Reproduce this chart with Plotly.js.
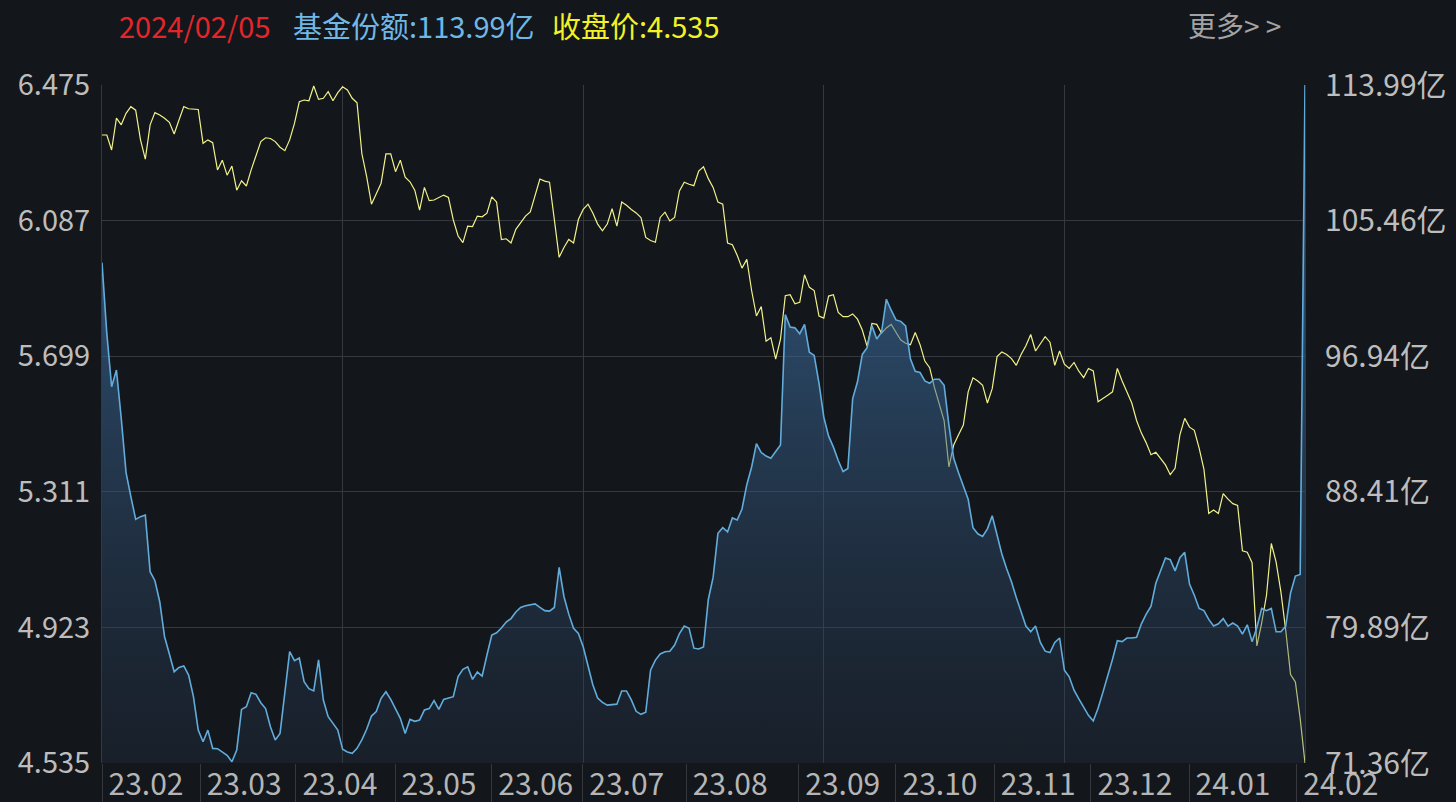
<!DOCTYPE html>
<html>
<head>
<meta charset="utf-8">
<script src="https://cdn.plot.ly/plotly-3.0.1.min.js"></script>
<style>
  html, body { margin: 0; padding: 0; background: #13161b; }
  #chart { width: 1456px; height: 802px; }
</style>
</head>
<body>
<div id="chart"></div>
<script>
// Closing price (left axis)
const price = [
  6.332, 6.332, 6.289, 6.380, 6.361, 6.394, 6.413, 6.403, 6.318, 6.263,
  6.361, 6.396, 6.389, 6.380, 6.368, 6.335, 6.375, 6.413, 6.407, 6.405,
  6.405, 6.308, 6.318, 6.310, 6.232, 6.260, 6.217, 6.243, 6.174, 6.201,
  6.186, 6.232, 6.275, 6.313, 6.324, 6.322, 6.313, 6.297, 6.287, 6.318,
  6.365, 6.427, 6.432, 6.430, 6.472, 6.434, 6.437, 6.456, 6.430, 6.453,
  6.470, 6.461, 6.437, 6.424, 6.279, 6.213, 6.134, 6.165, 6.194, 6.278,
  6.278, 6.227, 6.260, 6.211, 6.198, 6.174, 6.117, 6.182, 6.144, 6.146,
  6.153, 6.160, 6.153, 6.089, 6.043, 6.024, 6.071, 6.070, 6.100, 6.098,
  6.108, 6.155, 6.140, 6.033, 6.035, 6.023, 6.062, 6.081, 6.100, 6.112,
  6.159, 6.206, 6.200, 6.197, 6.090, 5.982, 6.010, 6.033, 6.023, 6.090,
  6.119, 6.134, 6.109, 6.077, 6.058, 6.077, 6.121, 6.071, 6.140, 6.131,
  6.119, 6.109, 6.096, 6.039, 6.030, 6.025, 6.096, 6.111, 6.086, 6.096,
  6.172, 6.197, 6.191, 6.187, 6.229, 6.241, 6.207, 6.182, 6.140, 6.134,
  6.023, 6.018, 5.988, 5.951, 5.976, 5.887, 5.814, 5.841, 5.742, 5.752,
  5.691, 5.748, 5.872, 5.875, 5.849, 5.853, 5.932, 5.896, 5.887, 5.814,
  5.808, 5.871, 5.875, 5.824, 5.812, 5.812, 5.820, 5.805, 5.774, 5.727,
  5.793, 5.790, 5.765, 5.780, 5.790, 5.767, 5.745, 5.736, 5.732, 5.767,
  5.732, 5.685, 5.666, 5.609, 5.559, 5.515, 5.382, 5.445, 5.474, 5.502,
  5.597, 5.637, 5.628, 5.616, 5.565, 5.606, 5.698, 5.711, 5.704, 5.692,
  5.673, 5.704, 5.729, 5.761, 5.714, 5.734, 5.755, 5.739, 5.673, 5.714,
  5.676, 5.664, 5.681, 5.656, 5.638, 5.664, 5.657, 5.569, 5.577, 5.587,
  5.597, 5.664, 5.628, 5.597, 5.565, 5.515, 5.479, 5.451, 5.417, 5.424,
  5.407, 5.388, 5.360, 5.378, 5.474, 5.521, 5.496, 5.487, 5.436, 5.375,
  5.249, 5.259, 5.249, 5.306, 5.290, 5.277, 5.272, 5.142, 5.138, 5.108,
  4.870, 4.936, 5.015, 5.163, 5.110, 5.024, 4.914, 4.788, 4.767, 4.662,
  4.535
];

// Fund shares, 亿 (right axis)
const shares = [
  102.82, 98.37, 95.02, 96.07, 93.03, 89.62, 88.11, 86.68, 86.85, 86.95,
  83.39, 82.82, 81.50, 79.30, 78.21, 77.10, 77.37, 77.46, 76.89, 75.53,
  73.43, 72.70, 73.43, 72.28, 72.26, 72.05, 71.84, 71.44, 72.18, 74.73,
  74.90, 75.78, 75.68, 75.15, 74.78, 73.64, 72.81, 73.22, 75.95, 78.36,
  77.79, 77.96, 76.47, 76.03, 75.89, 77.84, 75.32, 74.27, 73.85, 73.43,
  72.22, 72.05, 71.97, 72.28, 72.81, 73.48, 74.31, 74.59, 75.43, 75.84,
  75.36, 74.80, 74.17, 73.22, 74.10, 73.98, 74.06, 74.69, 74.78, 75.28,
  74.73, 75.36, 75.43, 75.53, 76.79, 77.25, 77.41, 76.62, 77.08, 76.83,
  78.15, 79.41, 79.55, 79.85, 80.22, 80.44, 80.86, 81.14, 81.25, 81.30,
  81.36, 81.14, 80.94, 80.91, 81.14, 83.66, 81.83, 80.72, 79.83, 79.50,
  78.67, 77.47, 76.28, 75.44, 75.17, 75.00, 75.03, 75.06, 75.89, 75.89,
  75.33, 74.61, 74.42, 74.55, 77.19, 77.83, 78.22, 78.36, 78.39, 78.78,
  79.50, 79.97, 79.83, 78.58, 78.53, 78.66, 81.64, 83.03, 85.80, 86.16,
  85.89, 86.77, 86.64, 87.33, 88.86, 89.97, 91.44, 90.88, 90.66, 90.52,
  90.94, 91.36, 99.55, 98.77, 98.72, 98.35, 98.94, 97.19, 96.99, 95.24,
  93.11, 91.91, 91.22, 90.38, 89.69, 89.88, 94.27, 95.33, 97.05, 97.47,
  98.86, 98.02, 98.44, 100.52, 99.83, 99.22, 99.13, 98.85, 96.77, 95.99,
  95.91, 95.38, 95.24, 95.49, 95.49, 95.11, 92.61, 90.52, 89.61, 88.72,
  87.94, 86.16, 85.77, 85.61, 86.08, 86.91, 85.66, 84.50, 83.58, 82.75,
  81.77, 80.80, 79.97, 79.61, 79.97, 78.94, 78.39, 78.30, 78.94, 79.22,
  77.19, 76.78, 75.94, 75.39, 74.83, 74.36, 74.00, 74.80, 75.80, 76.78,
  77.88, 79.05, 78.99, 79.22, 79.22, 79.27, 80.11, 80.72, 81.22, 82.66,
  83.44, 84.25, 84.14, 83.44, 84.27, 84.61, 82.61, 81.91, 81.08, 80.94,
  80.39, 79.97, 80.11, 80.44, 79.97, 80.16, 79.97, 79.47, 80.05, 78.99,
  79.88, 81.08, 80.94, 81.08, 79.61, 79.61, 79.97, 82.05, 83.11, 83.22,
  113.99
];

// Month labels and where each label cell starts (trading-day index)
const monthLabels = ['23.02','23.03','23.04','23.05','23.06','23.07','23.08','23.09','23.10','23.11','23.12','24.01','24.02'];
const monthPos = [0, 20.4, 40.3, 60.9, 81, 99.9, 121.4, 144.8, 165, 185.4, 205.5, 225.9, 248.3];

// Axis tick values
const priceTicks = [4.535, 4.923, 5.311, 5.699, 6.087, 6.475];
const shareTicks = [71.36, 79.89, 88.41, 96.94, 105.46, 113.99];
const shareTickText = shareTicks.map(v => v.toFixed(2) + '亿');

// Header values
const headerDate = '2024/02/05';
const headerShare = '基金份额:113.99亿';
const headerPrice = '收盘价:4.535';

const dayIdx = price.map((_, i) => i);

const FONT = '"Noto Sans CJK SC", "Noto Sans", sans-serif';
const GRID = '#35383e';
const TICKC = '#bdbdbd';

const traces = [
  {
    x: dayIdx, y: shares, yaxis: 'y2', type: 'scatter', mode: 'lines',
    line: { color: '#62acdc', width: 1.6 },
    fill: 'tozeroy',
    fillgradient: {
      type: 'vertical', start: 71.36, stop: 101,
      colorscale: [[0, 'rgba(40,60,85,0.25)'], [1, 'rgba(60,110,160,0.6)']]
    },
    hoverinfo: 'skip'
  },
  {
    x: dayIdx, y: price, yaxis: 'y', type: 'scatter', mode: 'lines',
    line: { color: '#f2f28a', width: 1.2 },
    hoverinfo: 'skip'
  }
];

const layout = {
  width: 1456, height: 802,
  paper_bgcolor: '#13161b', plot_bgcolor: '#13161b',
  margin: { l: 102, r: 151, t: 85, b: 39, pad: 0 },
  showlegend: false,
  font: { family: FONT, color: TICKC },
  xaxis: {
    range: [0, 250], autorange: false,
    tickmode: 'array', tickvals: monthPos, ticktext: monthLabels,
    ticks: 'outside', ticklen: 39, tickwidth: 1, tickcolor: GRID,
    ticklabelshift: 44, ticklabelstandoff: -44,
    tickfont: { family: FONT, size: 30, color: '#b5b5b5' },
    showgrid: false, zeroline: false, showline: false,
    minor: { tickmode: 'linear', tick0: 0, dtick: 50, showgrid: true, gridcolor: GRID, gridwidth: 1, ticks: '' },
    fixedrange: true
  },
  yaxis: {
    range: [4.535, 6.475], autorange: false,
    tickmode: 'array', tickvals: priceTicks, ticktext: priceTicks.map(v => v.toFixed(3)),
    tickfont: { family: FONT, size: 29, color: TICKC },
    ticklabelstandoff: 5,
    showgrid: true, gridcolor: GRID, gridwidth: 1,
    zeroline: false, showline: true, linecolor: GRID, linewidth: 1,
    fixedrange: true
  },
  yaxis2: {
    overlaying: 'y', side: 'right',
    range: [71.36, 113.99], autorange: false,
    tickmode: 'array', tickvals: shareTicks, ticktext: shareTickText,
    tickfont: { family: FONT, size: 30, color: TICKC },
    ticklabelstandoff: 13,
    showgrid: false, zeroline: false, showline: true, linecolor: GRID, linewidth: 1,
    fixedrange: true
  },
  annotations: [
    { xref: 'paper', yref: 'paper', x: 0.0125, y: 1.0885, xanchor: 'left', yanchor: 'middle',
      text: headerDate, showarrow: false, font: { family: FONT, size: 29, color: '#e3262b' } },
    { xref: 'paper', yref: 'paper', x: 0.157, y: 1.0885, xanchor: 'left', yanchor: 'middle',
      text: headerShare, showarrow: false, font: { family: FONT, size: 29, color: '#6fb8e6' } },
    { xref: 'paper', yref: 'paper', x: 0.372, y: 1.0885, xanchor: 'left', yanchor: 'middle',
      text: headerPrice, showarrow: false, font: { family: FONT, size: 29, color: '#f2f224' } },
    { xref: 'paper', yref: 'paper', x: 0.982, y: 1.0885, xanchor: 'right', yanchor: 'middle',
      text: '更多> >', showarrow: false, font: { family: FONT, size: 28, color: '#a3a3a3' } }
  ]
};

Plotly.newPlot('chart', traces, layout, { staticPlot: true, displayModeBar: false });
</script>
</body>
</html>
